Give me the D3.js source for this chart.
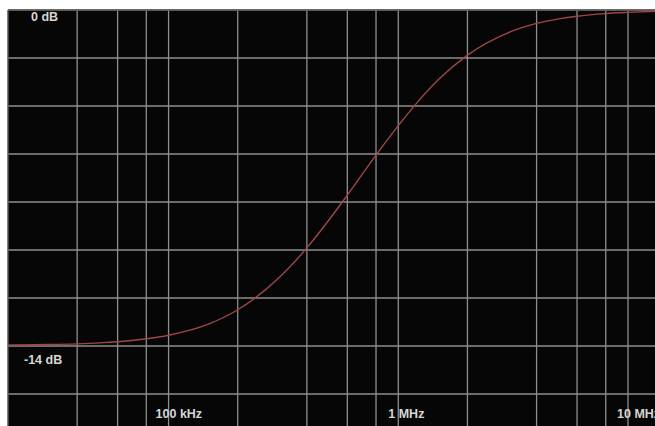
<!DOCTYPE html>
<html>
<head>
<meta charset="utf-8">
<script src="https://cdn.jsdelivr.net/npm/d3@7"></script>
<style>
  html, body { margin: 0; padding: 0; background: #ffffff; }
  svg { display: block; }
</style>
</head>
<body>
<svg id="chart" width="655" height="426"></svg>
<script>
// Frequency response (frequency in kHz, gain in dB)
const freqKHz = [20, 30, 40, 50, 60, 80, 100, 150, 200, 300, 400, 500, 600, 700, 800,
                 1000, 1200, 1500, 2000, 3000, 4000, 5000, 6000, 8000, 10000, 13500];
const gainDb  = [-13.96, -13.94, -13.91, -13.87, -13.82, -13.70, -13.55, -13.08, -12.49,
                 -11.19, -9.91, -8.74, -7.71, -6.82, -6.05, -4.82, -3.89, -2.89, -1.88,
                 -0.95, -0.56, -0.37, -0.26, -0.15, -0.10, -0.05];

// Grid positions
const xGridKHz = [40, 60, 80, 100, 200, 400, 600, 800, 1000, 2000, 4000, 6000, 8000, 10000];
const yGridDb  = [0, -2, -4, -6, -8, -10, -12, -14, -16];

// Labels
const xLabelKHz = [100, 1000, 10000];
const xLabelText = ["100 kHz", "1 MHz", "10 MHz"];
const yLabelDb = [0, -14];
const yLabelText = ["0 dB", "-14 dB"];

(function () {
const W = 655, H = 426;
const padL = 8, padT = 10;

const x = d3.scaleLog().domain([20, 10000]).range([padL, 628]);
const y = d3.scaleLinear().domain([0, -14]).range([padT, 346]);

const svg = d3.select("#chart");

svg.append("rect")
  .attr("x", padL).attr("y", padT)
  .attr("width", W - padL + 2).attr("height", H - padT + 2)
  .attr("fill", "#060606");

const grid = svg.append("g").attr("stroke", "#8e8e8e").attr("stroke-width", 1.3);

grid.selectAll("line.v").data(xGridKHz).join("line")
  .attr("class", "v")
  .attr("x1", d => x(d)).attr("x2", d => x(d))
  .attr("y1", padT).attr("y2", H);

grid.selectAll("line.h").data(yGridDb).join("line")
  .attr("class", "h")
  .attr("x1", padL).attr("x2", W)
  .attr("y1", d => y(d)).attr("y2", d => y(d));

// border
svg.append("line").attr("x1", padL).attr("x2", W).attr("y1", padT).attr("y2", padT)
  .attr("stroke", "#555").attr("stroke-width", 1.5);
svg.append("line").attr("x1", padL).attr("x2", padL).attr("y1", padT).attr("y2", H)
  .attr("stroke", "#555").attr("stroke-width", 1.5);

const pts = freqKHz.map((f, i) => [f, gainDb[i]]);
const line = d3.line()
  .x(d => x(d[0]))
  .y(d => y(d[1]))
  .curve(d3.curveMonotoneX);

svg.append("path")
  .datum(pts)
  .attr("d", line)
  .attr("fill", "none")
  .attr("stroke", "#a04646")
  .attr("stroke-width", 1.4);

const textStyle = sel => sel
  .attr("fill", "#d6d6d6")
  .attr("font-family", "'Liberation Sans', Arial, sans-serif")
  .attr("font-size", 12.5)
  .attr("font-weight", "bold");

const yLabX = [31, 24];
const yLabBaseOffset = [11, 18];
svg.selectAll("text.yl").data(yLabelDb).join("text")
  .attr("class", "yl")
  .attr("x", (d, i) => yLabX[i])
  .attr("y", (d, i) => y(d) + yLabBaseOffset[i])
  .text((d, i) => yLabelText[i])
  .call(textStyle);

const xLabOffset = [-13, -10, -11];
svg.selectAll("text.xl").data(xLabelKHz).join("text")
  .attr("class", "xl")
  .attr("x", (d, i) => x(d) + xLabOffset[i])
  .attr("y", 418)
  .text((d, i) => xLabelText[i])
  .call(textStyle);
})();
</script>
</body>
</html>
